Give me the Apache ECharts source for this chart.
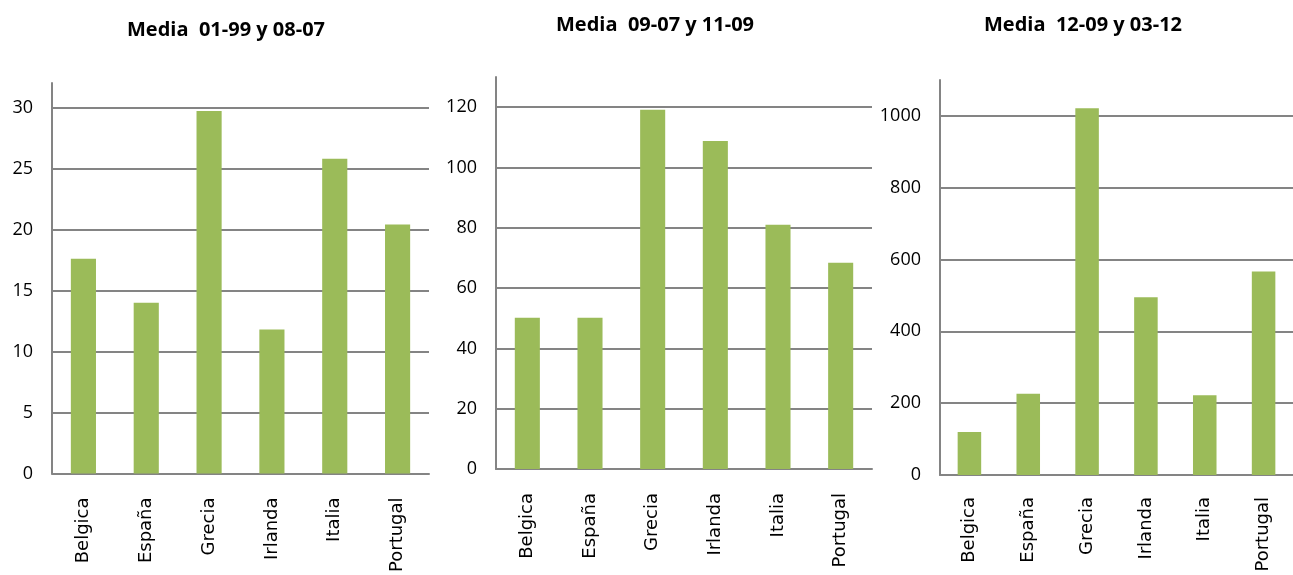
<!DOCTYPE html>
<html><head><meta charset="utf-8">
<script src="https://cdn.jsdelivr.net/npm/echarts@6/dist/echarts.min.js"></script>
<style>html,body{margin:0;padding:0;background:#fff}#c{width:1293px;height:575px}</style>
</head><body><div id="c"></div>
<script>
const categories = ['Belgica', 'España', 'Grecia', 'Irlanda', 'Italia', 'Portugal'];
const titles = ['Media  01-99 y 08-07', 'Media  09-07 y 11-09', 'Media  12-09 y 03-12'];
const values1 = [17.6, 14.0, 29.7, 11.8, 25.8, 20.4];
const values2 = [50.2, 50.2, 119.1, 108.8, 81.0, 68.4];
const values3 = [120, 226, 1021, 495, 222, 567];
const yMax = [32, 130, 1100];
const yInterval = [5, 20, 200];

const seriesValues = [values1, values2, values3];
const grids = [
  {left: 52, right: 864, top: 83, bottom: 96},
  {left: 496, right: 421, top: 77, bottom: 106},
  {left: 940, right: -10, top: 80, bottom: 100}
];
const titlePos = [{left: 127, top: 20}, {left: 556, top: 15}, {left: 984, top: 15}];
const labelMargins = [24, 24, 22];
const axisGray = '#848484';

const chart = echarts.init(document.getElementById('c'), null, {renderer: 'canvas'});
chart.setOption({
  animation: false,
  backgroundColor: '#ffffff',
  title: titles.map((t, i) => ({
    text: t, left: titlePos[i].left, top: titlePos[i].top, padding: 0,
    textStyle: {fontFamily: 'Open Sans', fontWeight: 'bold', fontSize: 20, color: '#000'}
  })),
  grid: grids.map(g => Object.assign({containLabel: false}, g)),
  xAxis: grids.map((g, i) => ({
    type: 'category', gridIndex: i, data: categories,
    axisLine: {show: true, lineStyle: {color: axisGray, width: 2}},
    axisTick: {show: false},
    axisLabel: {rotate: 90, margin: labelMargins[i], color: '#000', fontFamily: 'DejaVu Sans', fontSize: 18, interval: 0}
  })),
  yAxis: grids.map((g, i) => ({
    type: 'value', gridIndex: i, min: 0, max: yMax[i], interval: yInterval[i],
    axisLine: {show: true, lineStyle: {color: axisGray, width: 2}},
    axisTick: {show: false},
    axisLabel: {showMaxLabel: false, margin: 19, color: '#000', fontFamily: 'Open Sans', fontSize: 18,
      formatter: v => String(v)},
    splitLine: {show: true, showMaxLine: false, lineStyle: {color: axisGray, width: 2}}
  })),
  series: seriesValues.map((vals, i) => ({
    type: 'bar', xAxisIndex: i, yAxisIndex: i, data: vals,
    barCategoryGap: '60%',
    itemStyle: {color: '#9BBB59'}
  }))
});
</script></body></html>
